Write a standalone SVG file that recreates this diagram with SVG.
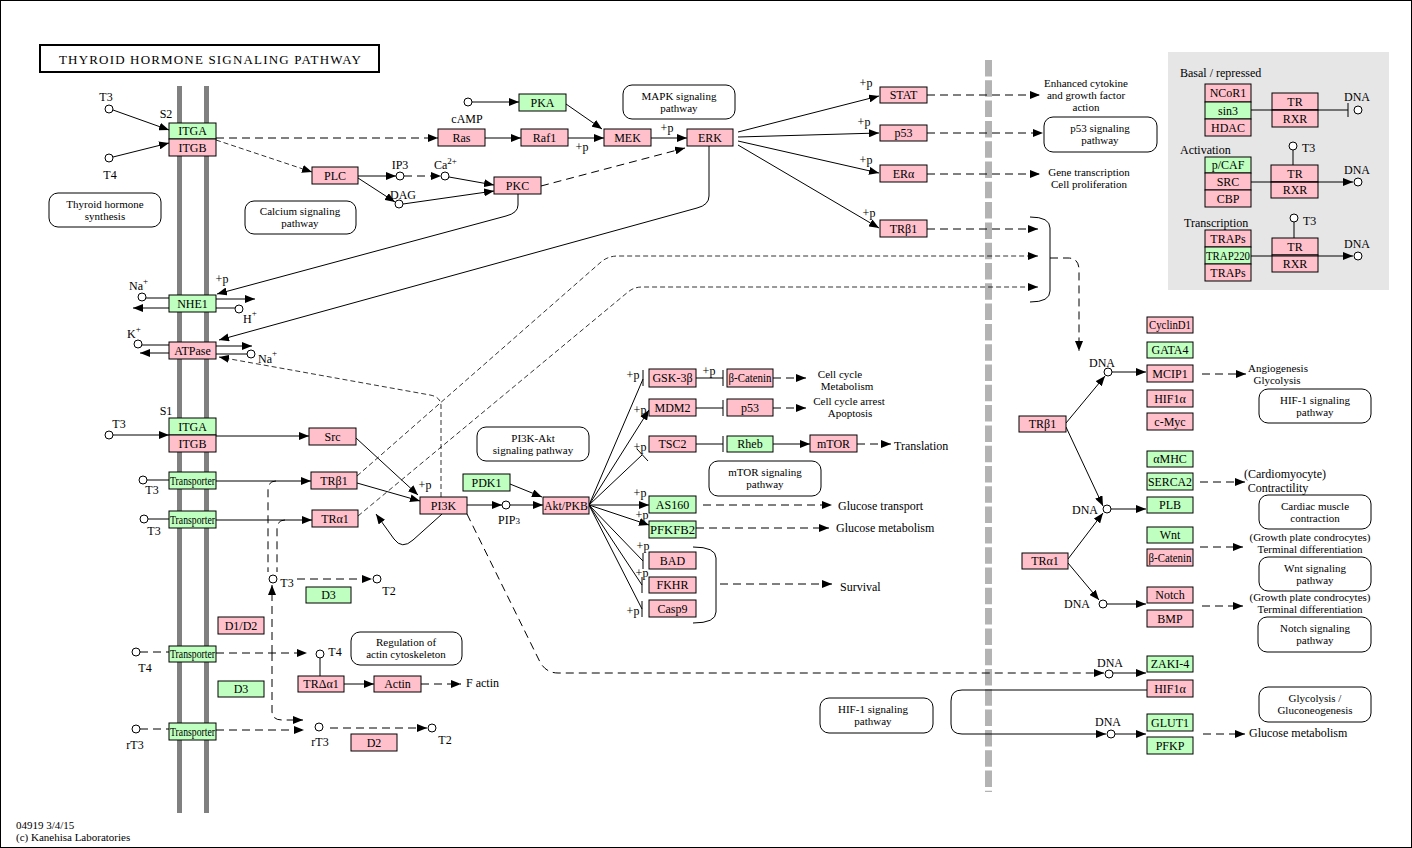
<svg xmlns="http://www.w3.org/2000/svg" width="1412" height="848" viewBox="0 0 1412 848">
<style>
.p{fill:#ffc0cb;stroke:#000;stroke-width:1}
.g{fill:#bfffbf;stroke:#000;stroke-width:1}
.t{font-family:"Liberation Serif","DejaVu Serif",serif;font-size:12px;text-anchor:middle;fill:#000}
.lb{font-family:"Liberation Serif","DejaVu Serif",serif;font-size:12px;fill:#000}
.lm{font-family:"Liberation Serif","DejaVu Serif",serif;font-size:12px;fill:#000;text-anchor:middle}
.ml{font-family:"Liberation Serif","DejaVu Serif",serif;font-size:11px;fill:#000;text-anchor:middle}
.fl{font-family:"Liberation Serif","DejaVu Serif",serif;font-size:11px;fill:#000}
.sup{font-size:9px}
.pw{fill:#fff;stroke:#000;stroke-width:1}
.ln{fill:none;stroke:#000;stroke-width:1}
.ds{fill:none;stroke:#000;stroke-width:1;stroke-dasharray:8,5}
.fd{fill:none;stroke:#000;stroke-width:0.8;stroke-dasharray:5,3}
.c{fill:#fff;stroke:#000;stroke-width:1}
.mem{fill:#808080}
</style>
<defs>
<marker id="a" markerUnits="userSpaceOnUse" markerWidth="10" markerHeight="8" refX="10" refY="4" orient="auto"><path d="M0,0 L10,4 L0,8 z" fill="#000"/></marker>
</defs>
<rect x="0.5" y="0.5" width="1411" height="847" fill="#fff" stroke="#000"/>

<!-- title -->
<g id="title">
<rect x="40" y="45" width="339" height="27" fill="#fff" stroke="#000" stroke-width="2"/>
<text class="t" x="210" y="63.5" style="font-size:13px" textLength="302" lengthAdjust="spacing">THYROID  HORMONE  SIGNALING  PATHWAY</text>
</g>

<!-- membranes -->
<g id="membrane">
<rect class="mem" x="177" y="86" width="5" height="727"/>
<rect class="mem" x="204" y="86" width="5" height="727"/>
<line x1="988.5" y1="60" x2="988.5" y2="792" stroke="#b3b3b3" stroke-width="7" stroke-dasharray="16.5,3.8"/>
</g>

<!-- right legend panel -->
<g id="legend">
<rect x="1168" y="52" width="221" height="238" fill="#e6e6e6"/>
<text class="lb" x="1180" y="77">Basal / repressed</text>
<text class="lb" x="1180" y="154">Activation</text>
<text class="lb" x="1184" y="227">Transcription</text>
<rect class="p" x="1205" y="84" width="46" height="18"/><text class="t" x="1228" y="97">NCoR1</text>
<rect class="g" x="1205" y="102" width="46" height="17"/><text class="t" x="1228" y="115">sin3</text>
<rect class="p" x="1205" y="119" width="46" height="17"/><text class="t" x="1228" y="132">HDAC</text>
<rect class="p" x="1272" y="93" width="46" height="17"/><text class="t" x="1295" y="106">TR</text>
<rect class="p" x="1272" y="110" width="46" height="17"/><text class="t" x="1295" y="123">RXR</text>
<rect class="g" x="1205" y="157" width="46" height="16"/><text class="t" x="1228" y="169">p/CAF</text>
<rect class="p" x="1205" y="173" width="46" height="17"/><text class="t" x="1228" y="186">SRC</text>
<rect class="p" x="1205" y="190" width="46" height="17"/><text class="t" x="1228" y="203">CBP</text>
<rect class="p" x="1271" y="165" width="47" height="17"/><text class="t" x="1295" y="178">TR</text>
<rect class="p" x="1271" y="182" width="47" height="16"/><text class="t" x="1295" y="194">RXR</text>
<rect class="p" x="1205" y="230" width="46" height="17"/><text class="t" x="1228" y="243">TRAPs</text>
<rect class="g" x="1205" y="247" width="46" height="17"/><text class="t" x="1228" y="260" textLength="44" lengthAdjust="spacingAndGlyphs">TRAP220</text>
<rect class="p" x="1205" y="264" width="46" height="17"/><text class="t" x="1228" y="277">TRAPs</text>
<rect class="p" x="1272" y="238" width="46" height="17"/><text class="t" x="1295" y="251">TR</text>
<rect class="p" x="1272" y="255" width="46" height="17"/><text class="t" x="1295" y="268">RXR</text>
<path class="ln" d="M1251,110 H1348 M1348,103 V117"/>
<path class="ln" d="M1251,182 H1353" marker-end="url(#a)"/>
<path class="ln" d="M1251,256 H1353" marker-end="url(#a)"/>
<path class="ln" d="M1293,150 V165 M1294,222 V238"/>
<circle class="c" cx="1358" cy="110" r="4"/>
<circle class="c" cx="1358" cy="182" r="4"/>
<circle class="c" cx="1358" cy="256" r="4"/>
<circle class="c" cx="1293" cy="146" r="4"/>
<circle class="c" cx="1294" cy="218" r="4"/>
<text class="lm" x="1357" y="101">DNA</text>
<text class="lm" x="1357" y="174">DNA</text>
<text class="lm" x="1357" y="248">DNA</text>
<text class="lb" x="1302" y="152">T3</text>
<text class="lb" x="1303" y="225">T3</text>
</g>

<!-- pathway boxes -->
<g id="pw-thyroid"><rect class="pw" x="49" y="193" width="112" height="34" rx="9"/><text class="ml" x="105" y="207.5">Thyroid hormone</text><text class="ml" x="105" y="219.5">synthesis</text></g>
<g id="pw-calcium"><rect class="pw" x="245" y="201" width="111" height="33" rx="9"/><text class="ml" x="300" y="215">Calcium signaling</text><text class="ml" x="300" y="227">pathway</text></g>
<g id="pw-mapk"><rect class="pw" x="623" y="85" width="112" height="34" rx="9"/><text class="ml" x="679" y="99.5">MAPK signaling</text><text class="ml" x="679" y="111.5">pathway</text></g>
<g id="pw-pi3k"><rect class="pw" x="477" y="427" width="112" height="34" rx="9"/><text class="ml" x="533" y="441.5">PI3K-Akt</text><text class="ml" x="533" y="453.5">signaling pathway</text></g>
<g id="pw-mtor"><rect class="pw" x="709" y="461" width="112" height="35" rx="9"/><text class="ml" x="765" y="476">mTOR signaling</text><text class="ml" x="765" y="488">pathway</text></g>
<g id="pw-actin"><rect class="pw" x="351" y="632" width="111" height="33" rx="9"/><text class="ml" x="406" y="646">Regulation of</text><text class="ml" x="406" y="658">actin cytoskeleton</text></g>
<g id="pw-hif1a"><rect class="pw" x="820" y="698" width="113" height="35" rx="9"/><text class="ml" x="873" y="713">HIF-1 signaling</text><text class="ml" x="873" y="725">pathway</text></g>
<g id="pw-p53"><rect class="pw" x="1044" y="117" width="113" height="35" rx="9"/><text class="ml" x="1100" y="132">p53 signaling</text><text class="ml" x="1100" y="144">pathway</text></g>
<g id="pw-hif1b"><rect class="pw" x="1259" y="389" width="112" height="34" rx="9"/><text class="ml" x="1315" y="403.5">HIF-1 signaling</text><text class="ml" x="1315" y="415.5">pathway</text></g>
<g id="pw-cardiac"><rect class="pw" x="1259" y="495" width="112" height="34" rx="9"/><text class="ml" x="1315" y="509.5">Cardiac muscle</text><text class="ml" x="1315" y="521.5">contraction</text></g>
<g id="pw-wnt"><rect class="pw" x="1259" y="557" width="112" height="34" rx="9"/><text class="ml" x="1315" y="571.5">Wnt signaling</text><text class="ml" x="1315" y="583.5">pathway</text></g>
<g id="pw-notch"><rect class="pw" x="1258" y="617" width="113" height="35" rx="9"/><text class="ml" x="1315" y="632">Notch signaling</text><text class="ml" x="1315" y="644">pathway</text></g>
<g id="pw-glyco"><rect class="pw" x="1259" y="687" width="112" height="35" rx="9"/><text class="ml" x="1315" y="702">Glycolysis /</text><text class="ml" x="1315" y="714">Gluconeogenesis</text></g>

<!-- connectors -->
<g id="connectors">
<path class="ln" d="M113,110 L169,130" marker-end="url(#a)"/>
<path class="ln" d="M113,157 L169,143" marker-end="url(#a)"/>
<path class="ds" d="M216,138 H438" marker-end="url(#a)"/>
<path class="fd" d="M216,140 L312,172" marker-end="url(#a)"/>
<path class="ln" d="M358,176 H396" marker-end="url(#a)"/>
<path class="ds" d="M404,176 H441" marker-end="url(#a)"/>
<path class="ln" d="M358,178 L395,202" marker-end="url(#a)"/>
<path class="ln" d="M449,177 L494,185" marker-end="url(#a)"/>
<path class="ln" d="M403,204 L494,191" marker-end="url(#a)"/>
<path class="ln" d="M472,102 H519" marker-end="url(#a)"/>
<path class="ln" d="M566,104 L602,129" marker-end="url(#a)"/>
<path class="ln" d="M485,138 H521" marker-end="url(#a)"/>
<path class="ln" d="M568,138 H604" marker-end="url(#a)"/>
<path class="ln" d="M651,138 H687" marker-end="url(#a)"/>
<path class="ds" d="M541,186 L685,148" marker-end="url(#a)"/>
<path class="ln" d="M518,194 V205 Q518,213 506,216 L217,294" marker-end="url(#a)"/>
<path class="ln" d="M709,146 V196 Q709,205 697,208 L219,340" marker-end="url(#a)"/>
<path class="ln" d="M738,132 L879,96" marker-end="url(#a)"/>
<path class="ln" d="M738,137 L879,133" marker-end="url(#a)"/>
<path class="ln" d="M738,141 L879,173" marker-end="url(#a)"/>
<path class="ln" d="M738,145 L879,228" marker-end="url(#a)"/>
<path class="ds" d="M927,95 H1040" marker-end="url(#a)"/>
<path class="ds" d="M927,133 H1043" marker-end="url(#a)"/>
<path class="ds" d="M927,174 H1040" marker-end="url(#a)"/>
<path class="ds" d="M927,229 H1038" marker-end="url(#a)"/>
<path class="ln" d="M146,298 H169"/>
<path class="ln" d="M216,299 H255" marker-end="url(#a)"/>
<path class="ln" d="M169,308 H133" marker-end="url(#a)"/>
<path class="ln" d="M216,308 H235"/>
<path class="ln" d="M142,345 H169"/>
<path class="ln" d="M216,346 H252" marker-end="url(#a)"/>
<path class="ln" d="M169,353 H140" marker-end="url(#a)"/>
<path class="ln" d="M216,354 H247"/>
<path class="ln" d="M113,435 H169" marker-end="url(#a)"/>
<path class="ln" d="M216,436 H309" marker-end="url(#a)"/>
<path class="ln" d="M356,438 L418,495" marker-end="url(#a)"/>
<path class="ln" d="M147,480 H169"/>
<path class="ln" d="M216,481 H311" marker-end="url(#a)"/>
<path class="ln" d="M148,519 H169"/>
<path class="ln" d="M216,520 H312" marker-end="url(#a)"/>
<path class="ln" d="M357,483 L420,501" marker-end="url(#a)"/>
<path class="ln" d="M442,514 L413,540 Q402,550 394,539 L376,514" marker-end="url(#a)"/>
<path class="fd" d="M357,476 L601,262 Q608,256 618,256 H1038" marker-end="url(#a)"/>
<path class="fd" d="M358,516 L628,292 Q634,287 642,287 H1038" marker-end="url(#a)"/>
<path class="fd" d="M441,497 V406 Q441,397 430,395 L219,357" marker-end="url(#a)"/>
<path class="ds" d="M276,481 Q268,481 268,490 V572"/>
<path class="ds" d="M285,520 Q277,520 277,529 V572"/>
<path class="ds" d="M297,579 H372" marker-end="url(#a)"/>
<path class="ds" d="M140,652 H169"/>
<path class="ds" d="M216,653 H307" marker-end="url(#a)"/>
<path class="ds" d="M272,653 V585" marker-end="url(#a)"/>
<path class="ds" d="M272,653 V711 Q272,720 282,720 H303" marker-end="url(#a)"/>
<path class="ds" d="M140,729 H169"/>
<path class="ds" d="M216,730 H304" marker-end="url(#a)"/>
<path class="ds" d="M330,728 H427" marker-end="url(#a)"/>
<path class="ln" d="M320,658 V676"/>
<path class="ln" d="M344,684 H374" marker-end="url(#a)"/>
<path class="ds" d="M421,684 H461" marker-end="url(#a)"/>
<path class="ln" d="M467,505 H502" marker-end="url(#a)"/>
<path class="ln" d="M510,505 H543" marker-end="url(#a)"/>
<path class="ln" d="M510,484 L542,497" marker-end="url(#a)"/>
<path class="ln" d="M589,505 L643,379 M643,370 V386"/>
<path class="ln" d="M589,505 L649,410" marker-end="url(#a)"/>
<path class="ln" d="M589,505 L642,455 M637,449 L648,461"/>
<path class="ln" d="M589,505 H649" marker-end="url(#a)"/>
<path class="ln" d="M589,505 L649,525" marker-end="url(#a)"/>
<path class="ln" d="M589,505 L643,561 M643,553 V569"/>
<path class="ln" d="M589,505 L642,585 M642,577 V593"/>
<path class="ln" d="M589,505 L642,609 M642,601 V617"/>
<path class="ln" d="M696,378 H723 M723,370 V386"/>
<path class="ln" d="M696,408 H723 M723,400 V416"/>
<path class="ln" d="M696,444 H723 M723,436 V452"/>
<path class="ln" d="M773,444 H810" marker-end="url(#a)"/>
<path class="ds" d="M773,378 H806" marker-end="url(#a)"/>
<path class="ds" d="M773,408 H806" marker-end="url(#a)"/>
<path class="ds" d="M857,444 H891" marker-end="url(#a)"/>
<path class="ds" d="M703,505 H832" marker-end="url(#a)"/>
<path class="ds" d="M696,528 H829" marker-end="url(#a)"/>
<path class="ln" d="M693,547 Q716,547 716,558 V612 Q716,623 693,623"/>
<path class="ds" d="M720,584 H832" marker-end="url(#a)"/>
<path class="ds" d="M467,514 L540,662 Q546,673 558,673 H1104" marker-end="url(#a)"/>
<path class="ln" d="M1030,217 Q1050,217 1050,228 V291 Q1050,302 1030,302"/>
<path class="ds" d="M1050,258 H1068 Q1079,258 1079,270 V351" marker-end="url(#a)"/>
<path class="ln" d="M1066,423 L1105,376" marker-end="url(#a)"/>
<path class="ln" d="M1112,372 H1146" marker-end="url(#a)"/>
<path class="ln" d="M1066,427 L1103,506" marker-end="url(#a)"/>
<path class="ln" d="M1111,509 H1146" marker-end="url(#a)"/>
<path class="ln" d="M1068,559 L1103,513" marker-end="url(#a)"/>
<path class="ln" d="M1068,563 L1099,600" marker-end="url(#a)"/>
<path class="ln" d="M1107,604 H1146" marker-end="url(#a)"/>
<path class="ln" d="M1113,673 H1146" marker-end="url(#a)"/>
<path class="ln" d="M1147,690 H962 Q951,690 951,701 V724 Q951,734 962,734 H1106" marker-end="url(#a)"/>
<path class="ln" d="M1115,734 H1146" marker-end="url(#a)"/>
<path class="ds" d="M1202,374 H1246" marker-end="url(#a)"/>
<path class="ds" d="M1200,482 H1245" marker-end="url(#a)"/>
<path class="ds" d="M1200,547 H1243" marker-end="url(#a)"/>
<path class="ds" d="M1202,606 H1243" marker-end="url(#a)"/>
<path class="ds" d="M1203,734 H1245" marker-end="url(#a)"/>
</g>

<!-- compounds -->
<g id="compounds">
<circle class="c" cx="109" cy="109" r="4"/><circle class="c" cx="109" cy="158" r="4"/>
<circle class="c" cx="400" cy="176" r="4"/><circle class="c" cx="445" cy="176" r="4"/>
<circle class="c" cx="399" cy="204" r="4"/><circle class="c" cx="468" cy="102" r="4"/>
<circle class="c" cx="142" cy="297" r="4"/><circle class="c" cx="239" cy="309" r="4"/>
<circle class="c" cx="138" cy="344" r="4"/><circle class="c" cx="251" cy="354" r="4"/>
<circle class="c" cx="109" cy="435" r="4"/><circle class="c" cx="143" cy="480" r="4"/>
<circle class="c" cx="144" cy="519" r="4"/><circle class="c" cx="273" cy="579" r="4"/>
<circle class="c" cx="377" cy="579" r="4"/><circle class="c" cx="136" cy="652" r="4"/>
<circle class="c" cx="320" cy="654" r="4"/><circle class="c" cx="136" cy="729" r="4"/>
<circle class="c" cx="319" cy="727" r="4"/><circle class="c" cx="432" cy="728" r="4"/>
<circle class="c" cx="506" cy="505" r="4"/>
<circle class="c" cx="1108" cy="372" r="4"/><circle class="c" cx="1107" cy="509" r="4"/>
<circle class="c" cx="1103" cy="604" r="4"/><circle class="c" cx="1109" cy="674" r="4"/>
<circle class="c" cx="1111" cy="734" r="4"/>
</g>

<!-- labels -->
<g id="labels">
<text class="lm" x="106" y="101">T3</text>
<text class="lm" x="110" y="179">T4</text>
<text class="lm" x="166" y="118">S2</text>
<text class="lm" x="400" y="169">IP3</text>
<text class="lb" x="434" y="169">Ca<tspan class="sup" dy="-5">2+</tspan></text>
<text class="lm" x="403" y="199">DAG</text>
<text class="lm" x="467" y="123">cAMP</text>
<text class="lm" x="582" y="151">+p</text>
<text class="lm" x="667" y="132">+p</text>
<text class="lb" x="129" y="290">Na<tspan class="sup" dy="-6">+</tspan></text>
<text class="lm" x="222" y="283">+p</text>
<text class="lb" x="243" y="323">H<tspan class="sup" dy="-7">+</tspan></text>
<text class="lb" x="127" y="338">K<tspan class="sup" dy="-6">+</tspan></text>
<text class="lb" x="258" y="363">Na<tspan class="sup" dy="-7">+</tspan></text>
<text class="lm" x="166" y="415">S1</text>
<text class="lm" x="119" y="428">T3</text>
<text class="lm" x="152" y="494">T3</text>
<text class="lm" x="154" y="535">T3</text>
<text class="lm" x="425" y="489">+p</text>
<text class="lm" x="287" y="587">T3</text>
<text class="lm" x="389" y="595">T2</text>
<text class="lm" x="145" y="672">T4</text>
<text class="lm" x="335" y="656">T4</text>
<text class="lb" x="466" y="687">F actin</text>
<text class="lm" x="135" y="749">rT3</text>
<text class="lm" x="320" y="746">rT3</text>
<text class="lm" x="445" y="744">T2</text>
<text class="lm" x="509" y="524">PIP<tspan font-size="9px">3</tspan></text>
<text class="lm" x="633" y="379">+p</text>
<text class="lm" x="709" y="375">+p</text>
<text class="lm" x="640" y="414">+p</text>
<text class="lm" x="640" y="451">+p</text>
<text class="lm" x="640" y="497">+p</text>
<text class="lm" x="642" y="519">+p</text>
<text class="lm" x="643" y="550">+p</text>
<text class="lm" x="642" y="577">+p</text>
<text class="lm" x="633" y="615">+p</text>
<text class="ml" x="840" y="378">Cell cycle</text>
<text class="ml" x="847" y="390">Metabolism</text>
<text class="ml" x="849" y="405">Cell cycle arrest</text>
<text class="ml" x="850" y="417">Apoptosis</text>
<text class="lb" x="894" y="450">Translation</text>
<text class="lb" x="838" y="510">Glucose transport</text>
<text class="lb" x="836" y="532">Glucose metabolism</text>
<text class="lb" x="840" y="591">Survival</text>
<text class="lm" x="866" y="87">+p</text>
<text class="lm" x="864" y="126">+p</text>
<text class="lm" x="866" y="164">+p</text>
<text class="lm" x="869" y="217">+p</text>
<text class="ml" x="1086" y="87">Enhanced cytokine</text>
<text class="ml" x="1086" y="99">and growth factor</text>
<text class="ml" x="1086" y="111">action</text>
<text class="ml" x="1089" y="176">Gene transcription</text>
<text class="ml" x="1089" y="188">Cell proliferation</text>
<text class="lm" x="1102" y="367">DNA</text>
<text class="ml" x="1278" y="372">Angiogenesis</text>
<text class="ml" x="1277" y="384">Glycolysis</text>
<text class="lm" x="1285" y="478">(Cardiomyocyte)</text>
<text class="lm" x="1278" y="492">Contractility</text>
<text class="lm" x="1085" y="514">DNA</text>
<text class="ml" x="1310" y="541">(Growth plate condrocytes)</text>
<text class="ml" x="1310" y="553">Terminal differentiation</text>
<text class="lm" x="1077" y="608">DNA</text>
<text class="ml" x="1310" y="601">(Growth plate condrocytes)</text>
<text class="ml" x="1310" y="613">Terminal differentiation</text>
<text class="lm" x="1110" y="667">DNA</text>
<text class="lm" x="1108" y="726">DNA</text>
<text class="lb" x="1249" y="737">Glucose metabolism</text>
<text class="fl" x="16" y="829">04919 3/4/15</text>
<text class="fl" x="16" y="841">(c) Kanehisa Laboratories</text>
</g>

<!-- nodes -->
<g id="n-itg-s2"><rect class="g" x="169" y="123" width="47" height="16"/><text class="t" x="192.5" y="135">ITGA</text><rect class="p" x="169" y="139" width="47" height="17"/><text class="t" x="192.5" y="152">ITGB</text></g>
<g id="n-nhe1"><rect class="g" x="169" y="295" width="47" height="17"/><text class="t" x="192.5" y="308">NHE1</text></g>
<g id="n-atpase"><rect class="p" x="169" y="342" width="47" height="17"/><text class="t" x="192.5" y="355">ATPase</text></g>
<g id="n-itg-s1"><rect class="g" x="169" y="418" width="47" height="17"/><text class="t" x="192.5" y="431">ITGA</text><rect class="p" x="169" y="435" width="47" height="17"/><text class="t" x="192.5" y="448">ITGB</text></g>
<g id="n-tp1"><rect class="g" x="169" y="472" width="47" height="17"/><text class="t" x="192.5" y="485" textLength="45" lengthAdjust="spacingAndGlyphs">Transporter</text></g>
<g id="n-tp2"><rect class="g" x="169" y="511" width="47" height="17"/><text class="t" x="192.5" y="524" textLength="45" lengthAdjust="spacingAndGlyphs">Transporter</text></g>
<g id="n-tp3"><rect class="g" x="169" y="646" width="47" height="16"/><text class="t" x="192.5" y="658" textLength="45" lengthAdjust="spacingAndGlyphs">Transporter</text></g>
<g id="n-tp4"><rect class="g" x="169" y="723" width="47" height="17"/><text class="t" x="192.5" y="736" textLength="45" lengthAdjust="spacingAndGlyphs">Transporter</text></g>
<g id="n-plc"><rect class="p" x="312" y="167" width="46" height="17"/><text class="t" x="335" y="180">PLC</text></g>
<g id="n-src"><rect class="p" x="309" y="428" width="47" height="17"/><text class="t" x="332.5" y="441">Src</text></g>
<g id="n-trb1a"><rect class="p" x="311" y="472" width="46" height="17"/><text class="t" x="334" y="485">TRβ1</text></g>
<g id="n-tra1a"><rect class="p" x="312" y="510" width="46" height="17"/><text class="t" x="335" y="523">TRα1</text></g>
<g id="n-d3a"><rect class="g" x="306" y="587" width="45" height="16"/><text class="t" x="328.5" y="599">D3</text></g>
<g id="n-d1d2"><rect class="p" x="218" y="617" width="46" height="17"/><text class="t" x="241" y="630">D1/D2</text></g>
<g id="n-d3b"><rect class="g" x="218" y="681" width="46" height="16"/><text class="t" x="241" y="693">D3</text></g>
<g id="n-trda1"><rect class="p" x="298" y="676" width="46" height="16"/><text class="t" x="321" y="688">TRΔα1</text></g>
<g id="n-actin"><rect class="p" x="374" y="676" width="47" height="16"/><text class="t" x="397.5" y="688">Actin</text></g>
<g id="n-d2"><rect class="p" x="351" y="734" width="46" height="17"/><text class="t" x="374" y="747">D2</text></g>
<g id="n-ras"><rect class="p" x="438" y="129" width="47" height="17"/><text class="t" x="461.5" y="142">Ras</text></g>
<g id="n-raf1"><rect class="p" x="521" y="129" width="47" height="17"/><text class="t" x="544.5" y="142">Raf1</text></g>
<g id="n-mek"><rect class="p" x="604" y="129" width="47" height="17"/><text class="t" x="627.5" y="142">MEK</text></g>
<g id="n-erk"><rect class="p" x="687" y="129" width="46" height="17"/><text class="t" x="710" y="142">ERK</text></g>
<g id="n-pka"><rect class="g" x="519" y="94" width="47" height="17"/><text class="t" x="542.5" y="107">PKA</text></g>
<g id="n-pkc"><rect class="p" x="494" y="177" width="47" height="17"/><text class="t" x="517.5" y="190">PKC</text></g>
<g id="n-pi3k"><rect class="p" x="420" y="497" width="47" height="17"/><text class="t" x="443.5" y="510">PI3K</text></g>
<g id="n-pdk1"><rect class="g" x="463" y="474" width="47" height="17"/><text class="t" x="486.5" y="487">PDK1</text></g>
<g id="n-akt"><rect class="p" x="543" y="497" width="46" height="17"/><text class="t" x="566" y="510" textLength="44" lengthAdjust="spacingAndGlyphs">Akt/PKB</text></g>
<g id="n-gsk"><rect class="p" x="649" y="369" width="47" height="18"/><text class="t" x="672.5" y="382">GSK-3β</text></g>
<g id="n-bcat1"><rect class="p" x="727" y="369" width="46" height="18"/><text class="t" x="750" y="382" textLength="43" lengthAdjust="spacingAndGlyphs">β-Catenin</text></g>
<g id="n-mdm2"><rect class="p" x="649" y="399" width="47" height="17"/><text class="t" x="672.5" y="412">MDM2</text></g>
<g id="n-p53b"><rect class="p" x="727" y="399" width="46" height="17"/><text class="t" x="750" y="412">p53</text></g>
<g id="n-tsc2"><rect class="p" x="649" y="436" width="47" height="16"/><text class="t" x="672.5" y="448">TSC2</text></g>
<g id="n-rheb"><rect class="g" x="727" y="436" width="46" height="16"/><text class="t" x="750" y="448">Rheb</text></g>
<g id="n-mtor"><rect class="p" x="810" y="435" width="47" height="17"/><text class="t" x="833.5" y="448">mTOR</text></g>
<g id="n-as160"><rect class="g" x="649" y="496" width="47" height="17"/><text class="t" x="672.5" y="509">AS160</text></g>
<g id="n-pfkfb2"><rect class="g" x="649" y="521" width="47" height="17"/><text class="t" x="672.5" y="534" textLength="45" lengthAdjust="spacingAndGlyphs">PFKFB2</text></g>
<g id="n-bad"><rect class="p" x="649" y="552" width="47" height="17"/><text class="t" x="672.5" y="565">BAD</text></g>
<g id="n-fkhr"><rect class="p" x="649" y="577" width="47" height="16"/><text class="t" x="672.5" y="589">FKHR</text></g>
<g id="n-casp9"><rect class="p" x="649" y="600" width="47" height="17"/><text class="t" x="672.5" y="613">Casp9</text></g>
<g id="n-stat"><rect class="p" x="880" y="87" width="47" height="16"/><text class="t" x="903.5" y="99">STAT</text></g>
<g id="n-p53a"><rect class="p" x="880" y="125" width="47" height="16"/><text class="t" x="903.5" y="137">p53</text></g>
<g id="n-era"><rect class="p" x="880" y="165" width="47" height="17"/><text class="t" x="903.5" y="178">ERα</text></g>
<g id="n-trb1b"><rect class="p" x="880" y="220" width="47" height="17"/><text class="t" x="903.5" y="233">TRβ1</text></g>
<g id="n-cyclind1"><rect class="p" x="1147" y="317" width="46" height="16"/><text class="t" x="1170" y="329" textLength="42" lengthAdjust="spacingAndGlyphs">CyclinD1</text></g>
<g id="n-gata4"><rect class="g" x="1147" y="342" width="46" height="16"/><text class="t" x="1170" y="354">GATA4</text></g>
<g id="n-mcip1"><rect class="p" x="1147" y="365" width="46" height="17"/><text class="t" x="1170" y="378">MCIP1</text></g>
<g id="n-hif1a1"><rect class="p" x="1147" y="390" width="46" height="17"/><text class="t" x="1170" y="403">HIF1α</text></g>
<g id="n-cmyc"><rect class="p" x="1147" y="413" width="46" height="17"/><text class="t" x="1170" y="426">c-Myc</text></g>
<g id="n-amhc"><rect class="g" x="1147" y="451" width="46" height="16"/><text class="t" x="1170" y="463">αMHC</text></g>
<g id="n-serca2"><rect class="g" x="1147" y="473" width="46" height="17"/><text class="t" x="1170" y="486" textLength="44" lengthAdjust="spacingAndGlyphs">SERCA2</text></g>
<g id="n-plb"><rect class="g" x="1147" y="497" width="46" height="16"/><text class="t" x="1170" y="509">PLB</text></g>
<g id="n-wnt"><rect class="g" x="1147" y="527" width="46" height="16"/><text class="t" x="1170" y="539">Wnt</text></g>
<g id="n-bcat2"><rect class="p" x="1147" y="549" width="46" height="17"/><text class="t" x="1170" y="562" textLength="43" lengthAdjust="spacingAndGlyphs">β-Catenin</text></g>
<g id="n-notch"><rect class="p" x="1147" y="587" width="46" height="16"/><text class="t" x="1170" y="599">Notch</text></g>
<g id="n-bmp"><rect class="p" x="1147" y="610" width="46" height="17"/><text class="t" x="1170" y="623">BMP</text></g>
<g id="n-zaki4"><rect class="g" x="1147" y="656" width="46" height="16"/><text class="t" x="1170" y="668">ZAKI-4</text></g>
<g id="n-hif1a2"><rect class="p" x="1147" y="680" width="46" height="17"/><text class="t" x="1170" y="693">HIF1α</text></g>
<g id="n-glut1"><rect class="g" x="1147" y="714" width="46" height="17"/><text class="t" x="1170" y="727">GLUT1</text></g>
<g id="n-pfkp"><rect class="g" x="1147" y="737" width="46" height="17"/><text class="t" x="1170" y="750">PFKP</text></g>
<g id="n-trb1c"><rect class="p" x="1019" y="416" width="47" height="16"/><text class="t" x="1042.5" y="428">TRβ1</text></g>
<g id="n-tra1b"><rect class="p" x="1022" y="553" width="46" height="16"/><text class="t" x="1045" y="565">TRα1</text></g>
</svg>
